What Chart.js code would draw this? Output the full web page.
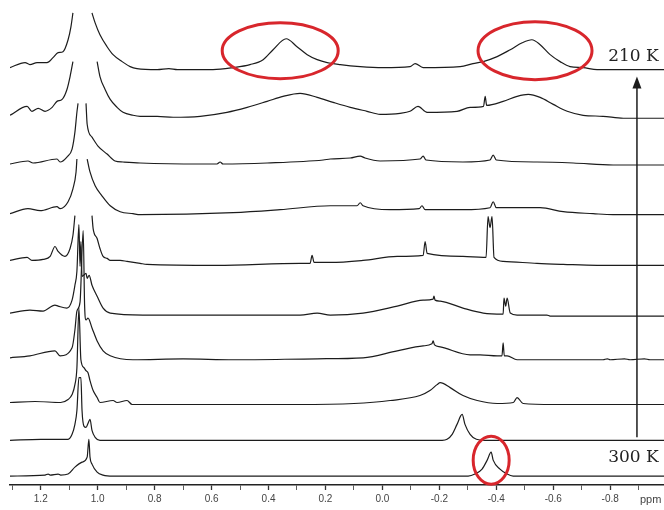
<!DOCTYPE html>
<html>
<head>
<meta charset="utf-8">
<script src="https://cdn.jsdelivr.net/npm/chart.js@4.4.1/dist/chart.umd.min.js"></script>
<style>
  html, body { margin: 0; padding: 0; background: #fff; }
  #wrap { width: 664px; height: 510px; }
</style>
</head>
<body>
<div id="wrap"><canvas id="nmrChart" width="664" height="510"></canvas></div>
<script>
// stacked 1H spectra, top = 210 K, bottom = 300 K
// each spectrum: [ppm, intensity above its own baseline], null = clipped
const spec210 = [[1.308,2],[1.255,7],[1.238,5],[1.213,7],[1.178,7],[1.157,12],[1.139,17],[1.122,18],[1.104,30],[1.094,43],[1.087,57],[1.06,null],
  [1.02,57],[1.009,47],[0.992,35],[0.967,23],[0.946,15],[0.914,8],[0.886,3],[0.862,1],[0.791,0],[0.75,1],[0.72,0],[0.595,0],[0.524,2],[0.465,5],
  [0.419,10],[0.384,20],[0.338,31],[0.3,23],[0.264,15],[0.229,10],[0.194,7],[0.148,5],[0.078,3],[-0.002,2],[-0.097,3],[-0.115,6],[-0.143,2],
  [-0.273,3],[-0.318,6],[-0.354,8],[-0.403,13],[-0.449,20],[-0.491,27],[-0.525,30],[-0.554,25],[-0.589,15],[-0.624,8],[-0.659,3],[-0.705,2],
  [-0.754,0],[-0.989,0]];
const spec220 = [[1.308,3],[1.248,12],[1.231,7],[1.209,10],[1.185,7],[1.16,11],[1.143,17],[1.125,19],[1.108,29],[1.097,42],[1.087,57],[1.05,null],
  [1.002,57],[0.992,42],[0.974,29],[0.956,19],[0.932,11],[0.911,6],[0.876,3],[0.851,2],[0.791,2],[0.735,1],[0.64,2],[0.546,6],[0.475,11],
  [0.405,17],[0.349,22],[0.289,25],[0.229,21],[0.173,16],[0.113,11],[0.054,7],[0.008,4],[-0.062,5],[-0.097,7],[-0.125,12],[-0.157,6],
  [-0.262,7],[-0.308,11],[-0.355,12],[-0.361,22],[-0.366,13],[-0.424,17],[-0.473,22],[-0.512,24],[-0.554,21],[-0.6,14],[-0.649,7],
  [-0.705,3],[-0.775,2],[-0.846,0],[-0.989,0]];
const spec230 = [[1.308,1],[1.245,4],[1.227,2],[1.143,6],[1.132,3],[1.108,8],[1.09,16],[1.08,33],[1.073,53],[1.069,62],[1.055,null],
  [1.041,62],[1.037,41],[1.02,28],[0.999,19],[0.967,11],[0.939,4],[0.911,3],[0.851,2],[0.64,1],[0.581,1],[0.57,3],[0.56,1],[0.405,2],
  [0.208,5],[0.183,6],[0.113,7],[0.078,9],[0.061,7],[0.008,4],[-0.132,6],[-0.143,9],[-0.153,5],[-0.283,3],[-0.378,5],[-0.389,10],
  [-0.4,5],[-0.543,3],[-0.67,2],[-0.81,0],[-0.989,0]];
const spec240 = [[1.308,1],[1.245,6],[1.202,4],[1.143,8],[1.132,6],[1.104,13],[1.087,26],[1.076,43],[1.073,56],[1.055,null],
  [1.037,56],[1.027,43],[1.009,29],[0.985,19],[0.956,9],[0.921,3],[0.876,1],[0.851,0],[0.524,2],[0.359,5],[0.183,9],[0.089,9],
  [0.078,12],[0.068,9],[-0.027,5],[-0.129,6],[-0.139,9],[-0.15,5],[-0.283,5],[-0.378,7],[-0.389,13],[-0.4,7],[-0.554,7],[-0.635,3],
  [-0.74,1],[-0.81,0],[-0.989,0]];
const spec250 = [[1.308,5],[1.248,8],[1.231,5],[1.192,6],[1.167,9],[1.15,19],[1.139,14],[1.115,9],[1.097,17],[1.087,30],[1.08,50],[1.05,null],
  [1.02,50],[1.016,37],[1.002,27],[0.992,17],[0.981,9],[0.967,7],[0.956,5],[0.921,5],[0.897,4],[0.851,2],[0.827,1],[0.581,0],[0.289,2],
  [0.254,2],[0.247,10],[0.24,3],[0.183,3],[0.068,5],[-0.052,9],[-0.143,10],[-0.15,24],[-0.157,12],[-0.283,9],[-0.354,8],[-0.364,8],
  [-0.371,49],[-0.378,38],[-0.385,49],[-0.392,8],[-0.424,4],[-0.543,2],[-0.635,1],[-0.754,0],[-0.989,0]];
const spec260 = [[1.308,3],[1.238,6],[1.192,5],[1.15,11],[1.139,10],[1.108,8],[1.09,16],[1.08,31],[1.073,45],[1.066,92],[1.062,50],
  [1.059,75],[1.055,40],[1.041,43],[1.037,38],[1.03,41],[1.02,31],[1.002,20],[0.981,8],[0.956,3],[0.841,1],[0.289,1],[0.229,3],
  [0.183,1],[0.068,3],[-0.052,10],[-0.143,16],[-0.178,17],[-0.181,20],[-0.185,16],[-0.203,15],[-0.283,8],[-0.354,3],[-0.424,2],
  [-0.427,18],[-0.433,10],[-0.438,18],[-0.449,3],[-0.473,1],[-0.578,1],[-0.589,0],[-0.989,0]];
const spec270 = [[1.308,2],[1.238,4],[1.15,9],[1.132,4],[1.09,12],[1.08,30],[1.073,49],[1.062,58],[1.051,130],[1.046,55],[1.041,40],
  [1.034,42],[1.02,32],[1.002,19],[0.981,9],[0.956,4],[0.876,0],[0.7,1],[0.524,0],[0.229,1],[0.068,2],[-0.052,9],[-0.143,14],
  [-0.174,16],[-0.178,19],[-0.183,15],[-0.203,13],[-0.308,5],[-0.343,5],[-0.403,4],[-0.42,4],[-0.424,17],[-0.428,4],[-0.438,4],
  [-0.473,0],[-0.775,0],[-0.79,1],[-0.8,0],[-0.85,1],[-0.87,0],[-0.92,1],[-0.94,0],[-0.989,0]];
const spec280 = [[1.308,2],[1.22,3],[1.13,2],[1.104,5],[1.09,10],[1.08,20],[1.073,37],[1.066,97],[1.059,45],[1.048,37],[1.041,34],
  [1.034,32],[1.027,24],[1.016,14],[1.002,7],[0.992,2],[0.946,4],[0.932,2],[0.897,4],[0.879,0],[0.3,0],[0.1,1],[-0.027,4],
  [-0.132,9],[-0.167,14],[-0.192,20],[-0.203,22],[-0.238,17],[-0.283,9],[-0.333,4],[-0.403,1],[-0.46,2],[-0.473,7],[-0.494,1],
  [-0.6,0],[-0.989,0]];
const spec290 = [[1.308,0],[1.2,1],[1.104,1],[1.09,6],[1.08,16],[1.073,30],[1.066,63],[1.059,63],[1.055,30],[1.048,14],[1.041,13],
  [1.034,17],[1.027,21],[1.02,10],[1.009,3],[0.992,0],[-0.21,0],[-0.227,1],[-0.245,6],[-0.262,16],[-0.28,26],[-0.29,16],[-0.308,6],
  [-0.33,1],[-0.36,0],[-0.989,0]];
const spec300 = [[1.308,0],[1.185,1],[1.174,2],[1.167,1],[1.139,2],[1.13,1],[1.104,2],[1.08,9],[1.055,14],[1.037,19],[1.031,37],
  [1.027,19],[1.02,12],[1.002,4],[0.981,1],[0.946,0],[-0.301,0],[-0.325,2],[-0.35,7],[-0.368,16],[-0.382,24],[-0.389,16],[-0.413,7],
  [-0.438,2],[-0.459,0],[-0.989,0]];

const spectra = [spec210, spec220, spec230, spec240, spec250, spec260, spec270, spec280, spec290, spec300];
// vertical stacking offset of every spectrum
const stackOffsets = [418, 369, 322, 272, 221, 170, 126, 81, 45, 9];
const tempLabels = ["210 K", "300 K"];
const ppmTicks = [1.3, 1.2, 1.1, 1.0, 0.9, 0.8, 0.7, 0.6, 0.5, 0.4, 0.3, 0.2, 0.1, 0.0,
  -0.1, -0.2, -0.3, -0.4, -0.5, -0.6, -0.7, -0.8, -0.9];

let datasets = spectra.map(function (spec, i) {
  return {
    data: spec.map(function (p) {
      return { x: p[0], y: p[1] === null ? null : p[1] + stackOffsets[i] };
    }),
    borderColor: "#1c1c1c",
    borderWidth: 1.2,
    pointRadius: 0,
    cubicInterpolationMode: "monotone",
    fill: false,
    spanGaps: false,
  };
});

// red circles, arrow and the temperature labels
const markPlugin = {
  id: "marks",
  afterDraw: function (chart) {
    let ctx = chart.ctx;
    let xs = chart.scales.x;
    let ys = chart.scales.y;
    ctx.save();

    ctx.strokeStyle = "#d8262c";
    ctx.lineWidth = 3;
    [[0.359, 437, 58, 28], [-0.536, 437, 57, 29], [-0.382, 25, 18, 24]].forEach(function (e) {
      ctx.beginPath();
      ctx.ellipse(xs.getPixelForValue(e[0]), ys.getPixelForValue(e[1]), e[2], e[3], 0, 0, Math.PI * 2);
      ctx.stroke();
    });

    // arrow 300 K -> 210 K
    let ax = xs.getPixelForValue(-0.894);
    let yBottom = ys.getPixelForValue(48);
    let yTop = ys.getPixelForValue(411);
    ctx.strokeStyle = "#1c1c1c";
    ctx.fillStyle = "#1c1c1c";
    ctx.lineWidth = 1.5;
    ctx.beginPath();
    ctx.moveTo(ax, yBottom);
    ctx.lineTo(ax, yTop + 8);
    ctx.stroke();
    ctx.beginPath();
    ctx.moveTo(ax, yTop);
    ctx.lineTo(ax - 4.5, yTop + 12);
    ctx.lineTo(ax + 4.5, yTop + 12);
    ctx.closePath();
    ctx.fill();

    ctx.font = "17px 'DejaVu Serif'";
    ctx.fillStyle = "#222";
    ctx.textAlign = "left";
    ctx.textBaseline = "middle";
    ctx.fillText(tempLabels[0], xs.getPixelForValue(-0.793), ys.getPixelForValue(431));
    ctx.fillText(tempLabels[1], xs.getPixelForValue(-0.793), ys.getPixelForValue(28));

    ctx.font = "11px 'Liberation Sans'";
    ctx.fillStyle = "#444";
    ctx.textAlign = "center";
    ctx.fillText("ppm", xs.getPixelForValue(-0.942), chart.chartArea.bottom + 15);
    ctx.restore();
  },
};

let nmrChart = new Chart("nmrChart", {
  type: "line",
  data: { datasets: datasets },
  plugins: [markPlugin],
  options: {
    responsive: false,
    animation: false,
    layout: { padding: { left: 10, right: 0, top: 0, bottom: 2 } },
    plugins: {
      legend: { display: false },
      tooltip: { enabled: false },
    },
    scales: {
      x: {
        type: "linear",
        reverse: true,
        min: -0.989,
        max: 1.308,
        afterBuildTicks: function (scale) {
          scale.ticks = ppmTicks.map(function (v) { return { value: v }; });
        },
        grid: {
          drawOnChartArea: false,
          drawTicks: true,
          tickLength: 5,
          tickColor: "#333",
          tickWidth: function (c) {
            return Math.round(c.tick.value * 10) % 2 === 0 ? 1.3 : 0.8;
          },
        },
        border: { display: true, color: "#222", width: 1.5 },
        ticks: {
          padding: 3,
          color: "#444",
          font: { family: "Liberation Sans", size: 10 },
          maxRotation: 0,
          autoSkip: false,
          callback: function (value) {
            return Math.round(value * 10) % 2 === 0 ? value.toFixed(1) : "";
          },
        },
      },
      y: {
        display: false,
        min: 0,
        max: 488,
      },
    },
  },
});
</script>
</body>
</html>
